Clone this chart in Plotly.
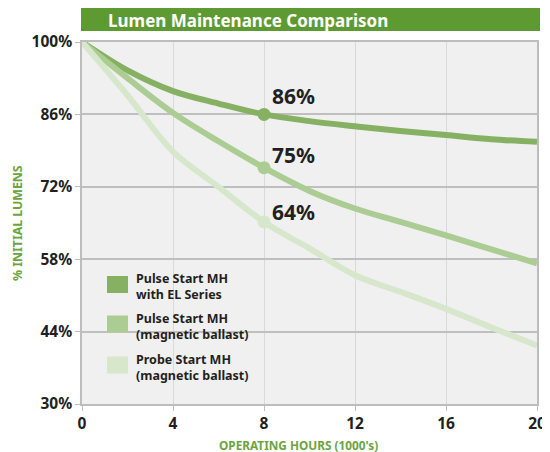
import plotly.graph_objects as go

# ---- data ----
hours = [0, 2, 4, 6, 8, 10, 12, 14, 16, 18, 20]
pulse_el = [100, 94.5, 90.5, 88.1, 86.0, 84.7, 83.7, 82.8, 82.0, 81.2, 80.7]
pulse_mag = [100, 93.0, 86.3, 80.8, 75.7, 71.2, 67.8, 65.2, 62.6, 59.9, 57.2]
probe_mag = [100, 89.7, 78.8, 72.0, 65.2, 60.1, 54.9, 51.7, 48.4, 44.8, 41.3]
series_names = ["Pulse Start MH<br>with EL Series",
                "Pulse Start MH<br>(magnetic ballast)",
                "Probe Start MH<br>(magnetic ballast)"]
point_labels = ["86%", "75%", "64%"]
x_ticks = [0, 4, 8, 12, 16, 20]
y_ticks = [30, 44, 58, 72, 86, 100]
y_tick_text = ["30%", "44%", "58%", "72%", "86%", "100%"]
title_text = "Lumen Maintenance Comparison"
x_title = "OPERATING HOURS (1000's)"
y_title = "% INITIAL LUMENS"

colors = ["#86b062", "#abcd94", "#d7e7cc"]
TITLE_GREEN = "#6aa53f"
FONT = "Noto Sans"
OFF = 8  # default body margin of the html page
W, H = 550 - OFF, 452 - OFF
PL, PT, PR, PB = 82, 42, 537, 404  # plot area in page pixels
ML, MT = PL - OFF, PT - OFF
PW, PH = PR - PL, PB - PT
MR, MB = W - ML - PW, H - MT - PH


def px(xp):
    return (xp - PL) / PW


def py(yp):
    return (PB - yp) / PH


fig = go.Figure()
all_series = [pulse_el, pulse_mag, probe_mag]
for name, vals, c in zip(series_names, all_series, colors):
    fig.add_trace(go.Scatter(x=hours, y=vals, mode="lines", name=name,
                             line=dict(color=c, width=6, shape="spline", smoothing=1.0),
                             showlegend=False, hoverinfo="skip"))
# markers at 8k hours
idx8 = hours.index(8)
for vals, c in zip(all_series, colors):
    fig.add_trace(go.Scatter(x=[hours[idx8]], y=[vals[idx8]], mode="markers",
                             marker=dict(color=c, size=13), showlegend=False,
                             hoverinfo="skip"))

# value labels
label_offsets = [3.5, 2.4, 1.9]
for vals, lab, off in zip(all_series, point_labels, label_offsets):
    fig.add_annotation(x=hours[idx8], y=vals[idx8] + off, text=lab, showarrow=False,
                       xanchor="left", yanchor="middle", xshift=6,
                       font=dict(family=FONT, size=21, color="#231f20", weight="bold"))

# custom legend
leg_rows = [284.5, 324, 365]
for yc, name, c in zip(leg_rows, series_names, colors):
    fig.add_shape(type="rect", xref="paper", yref="paper",
                  x0=px(107), x1=px(128), y0=py(yc + 8.5), y1=py(yc - 8.5),
                  fillcolor=c, line=dict(width=0), layer="above")
    fig.add_annotation(xref="paper", yref="paper", x=px(134), y=py(yc + 2),
                       text=name, showarrow=False, xanchor="left", yanchor="middle",
                       align="left",
                       font=dict(family=FONT, size=12.5, color="#231f20", weight="bold"))

# title bar
fig.add_shape(type="rect", xref="paper", yref="paper", x0=px(81), x1=px(540),
              y0=py(31), y1=py(8), fillcolor="#5e9a32", line=dict(width=0))
fig.add_annotation(xref="paper", yref="paper", x=px(106), y=py(20), text=title_text,
                   showarrow=False, xanchor="left", yanchor="middle",
                   font=dict(family=FONT, size=17, color="white", weight="bold"))

# axis titles
fig.add_annotation(xref="paper", yref="paper", x=px(298), y=py(445), text=x_title,
                   showarrow=False, xanchor="center", yanchor="middle",
                   font=dict(family=FONT, size=11.8, color=TITLE_GREEN, weight="bold"))
fig.add_annotation(xref="paper", yref="paper", x=px(17), y=py(223), text=y_title,
                   showarrow=False, xanchor="center", yanchor="middle", textangle=-90,
                   font=dict(family=FONT, size=12.3, color=TITLE_GREEN, weight="bold"))

fig.update_layout(
    width=W, height=H,
    margin=dict(l=ML, r=MR, t=MT, b=MB, autoexpand=False),
    paper_bgcolor="white", plot_bgcolor="#f0f0f0",
    font=dict(family=FONT, color="#231f20"),
    showlegend=False,
)
fig.update_xaxes(range=[0, 20], tickvals=x_ticks, showgrid=True, gridcolor="#d9d9d9",
                 gridwidth=1, showline=True, linecolor="#bdbdbd", linewidth=1.5,
                 mirror=True, ticks="outside", ticklen=5, tickcolor="#bdbdbd",
                 zeroline=False, automargin=False,
                 tickfont=dict(family=FONT, size=15.5, color="#231f20", weight="bold"))
fig.update_yaxes(range=[30, 100], tickvals=y_ticks, ticktext=y_tick_text, showgrid=True,
                 gridcolor="#bfbfbf", gridwidth=1.5, showline=True, linecolor="#bdbdbd",
                 linewidth=1.5, mirror=True, ticks="outside", ticklen=5,
                 tickcolor="#bdbdbd", zeroline=False, automargin=False,
                 tickfont=dict(family=FONT, size=15.5, color="#231f20", weight="bold"))

fig.write_html("out.html")
